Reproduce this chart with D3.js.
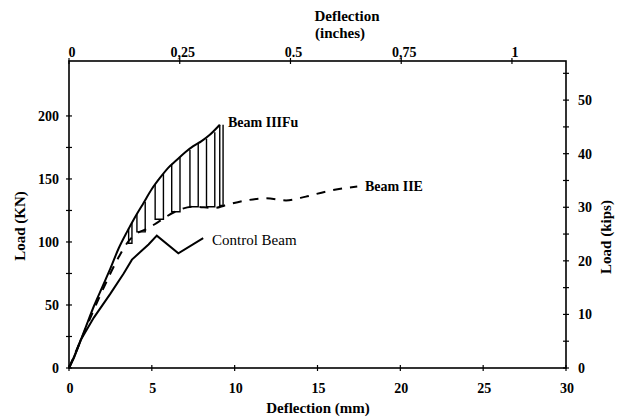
<!DOCTYPE html>
<html>
<head>
<meta charset="utf-8">
<script src="https://cdn.jsdelivr.net/npm/d3@7"></script>
<style>
  body { margin: 0; background: #fff; }
  text { font-family: "Liberation Serif", "Times New Roman", serif; fill: #000; }
</style>
</head>
<body>
<div id="chart"></div>
<script>
// deflection (mm) / load (kN)
const controlX = [0, 0.3, 0.7, 1.5, 2.5, 3.3, 3.8, 4.3, 4.8, 5.3, 6.6, 8.1];
const controlY = [0, 8, 22, 40, 59, 75, 86, 92, 98, 105, 91, 103];

const fuX = [0, 0.5, 1, 1.5, 2, 2.5, 3, 3.5, 4, 4.5, 5, 5.5, 6, 6.5, 7, 7.5, 8, 8.5, 9.1];
const fuY = [0, 15, 32, 49, 64, 79, 95, 108, 120, 131, 142, 151, 159, 165, 171, 176, 180, 185, 193];

const eX = [0, 1, 2, 3, 3.5, 4, 4.8, 5.4, 6.4, 7.5, 8.8, 9.4, 10.7, 11.9, 13.1, 14.3, 15.5, 16.8, 17.4];
const eY = [0, 31, 61, 88, 99, 106, 111, 116, 124, 128, 127, 129, 133, 134.6, 133, 136, 140, 143, 144];

// unload / reload loops of beam IIIFu
const loopStart = [3.6, 4.1, 5.2, 6.2, 7.3, 8.3, 9.1];
const loopEnd = [3.8, 4.6, 5.7, 6.7, 7.8, 8.8, 9.3];
const loopTop0 = [111, 122, 146, 162, 173, 182, 193];
const loopTop1 = [115, 132, 154, 167, 178, 187, 193];
const loopBottom = [99, 108, 118, 124, 128, 128, 129];

const mmTicks = [0, 5, 10, 15, 20, 25, 30];
const knTicks = [0, 50, 100, 150, 200];
const kipTicks = [0, 10, 20, 30, 40, 50];
const inchTicks = [0, 0.25, 0.5, 0.75, 1];
const inchLabels = ['0', '0,25', '0.5', '0,75', '1'];

const width = 620, height = 417;
const plotL = 69, plotR = 566, plotT = 61, plotB = 368;

const svg = d3.select('#chart').append('svg')
    .attr('width', width)
    .attr('height', height);

const x = d3.scaleLinear().domain([0, 30]).range([plotL, plotR]);
const xIn = d3.scaleLinear().domain([0, 1.122]).range([plotL, plotR]);
const y = d3.scaleLinear().domain([0, 243.6]).range([plotB, plotT]);
const yKip = d3.scaleLinear().domain([0, 57.3]).range([plotB, plotT]);

// frame
svg.append('rect')
    .attr('x', plotL).attr('y', plotT)
    .attr('width', plotR - plotL).attr('height', plotB - plotT)
    .attr('fill', 'none').attr('stroke', '#000').attr('stroke-width', 1.6);

// ticks (crossing the axis lines)
const tk = svg.append('g').attr('stroke', '#000').attr('stroke-width', 1.2);
mmTicks.forEach(function(d) {
    tk.append('line').attr('x1', x(d)).attr('x2', x(d)).attr('y1', plotB - 3).attr('y2', plotB + 3);
});
d3.range(0, 225, 25).forEach(function(d) {
    tk.append('line').attr('x1', plotL - 3).attr('x2', plotL + 3).attr('y1', y(d)).attr('y2', y(d));
});
d3.range(0, 60, 5).forEach(function(d) {
    tk.append('line').attr('x1', plotR - 3).attr('x2', plotR + 3).attr('y1', yKip(d)).attr('y2', yKip(d));
});
inchTicks.forEach(function(d) {
    tk.append('line').attr('x1', xIn(d)).attr('x2', xIn(d)).attr('y1', plotT - 3).attr('y2', plotT + 3);
});

// tick labels
svg.selectAll('.mm').data(mmTicks).enter().append('text')
    .attr('x', function(d) { return x(d) + 1; })
    .attr('y', 393)
    .attr('text-anchor', 'middle')
    .attr('font-size', 14).attr('font-weight', 'bold')
    .text(function(d) { return d; });

svg.selectAll('.kn').data(knTicks).enter().append('text')
    .attr('x', 59)
    .attr('y', function(d) { return y(d) + 5; })
    .attr('text-anchor', 'end')
    .attr('font-size', 14).attr('font-weight', 'bold')
    .text(function(d) { return d; });

svg.selectAll('.kip').data(kipTicks).enter().append('text')
    .attr('x', 578)
    .attr('y', function(d) { return yKip(d) + 5; })
    .attr('font-size', 14).attr('font-weight', 'bold')
    .text(function(d) { return d; });

svg.selectAll('.inch').data(inchTicks).enter().append('text')
    .attr('x', function(d) { return xIn(d) + 3; })
    .attr('y', 57)
    .attr('text-anchor', 'middle')
    .attr('font-size', 14).attr('font-weight', 'bold')
    .text(function(d, i) { return inchLabels[i]; });

// axis titles
svg.append('text').attr('x', 318).attr('y', 413).attr('text-anchor', 'middle')
    .attr('font-size', 15).attr('font-weight', 'bold').text('Deflection (mm)');
svg.append('text').attr('x', 347).attr('y', 21).attr('text-anchor', 'middle')
    .attr('font-size', 15).attr('font-weight', 'bold').text('Deflection');
svg.append('text').attr('x', 340).attr('y', 38).attr('text-anchor', 'middle')
    .attr('font-size', 15).attr('font-weight', 'bold').text('(inches)');
svg.append('text').attr('transform', 'translate(25,226) rotate(-90)').attr('text-anchor', 'middle')
    .attr('font-size', 15).attr('font-weight', 'bold').text('Load (KN)');
svg.append('text').attr('transform', 'translate(611,237) rotate(-90)').attr('text-anchor', 'middle')
    .attr('font-size', 15).attr('font-weight', 'bold').text('Load (kips)');

// curves
const line = d3.line()
    .x(function(d) { return x(d[0]); })
    .y(function(d) { return y(d[1]); });
const smooth = d3.line()
    .x(function(d) { return x(d[0]); })
    .y(function(d) { return y(d[1]); })
    .curve(d3.curveMonotoneX);

svg.append('path')
    .datum(d3.zip(eX, eY))
    .attr('d', smooth)
    .attr('fill', 'none').attr('stroke', '#000').attr('stroke-width', 2)
    .attr('stroke-dasharray', '9,8');

svg.append('path')
    .datum(d3.zip(controlX, controlY))
    .attr('d', line)
    .attr('fill', 'none').attr('stroke', '#000').attr('stroke-width', 2);

svg.append('path')
    .datum(d3.zip(fuX, fuY))
    .attr('d', smooth)
    .attr('fill', 'none').attr('stroke', '#000').attr('stroke-width', 2);

// loops
loopStart.forEach(function(s, i) {
    const pts = [[s, loopTop0[i]], [s, loopBottom[i]], [loopEnd[i], loopBottom[i]], [loopEnd[i], loopTop1[i]]];
    svg.append('path')
        .datum(pts)
        .attr('d', line)
        .attr('fill', 'none').attr('stroke', '#000').attr('stroke-width', 1.4);
});

// labels
svg.append('text').attr('x', 228).attr('y', 127)
    .attr('font-size', 14).attr('font-weight', 'bold').text('Beam IIIFu');
svg.append('text').attr('x', 365).attr('y', 191)
    .attr('font-size', 14).attr('font-weight', 'bold').text('Beam IIE');
svg.append('text').attr('x', 212).attr('y', 245)
    .attr('font-size', 15).text('Control Beam');
</script>
</body>
</html>
